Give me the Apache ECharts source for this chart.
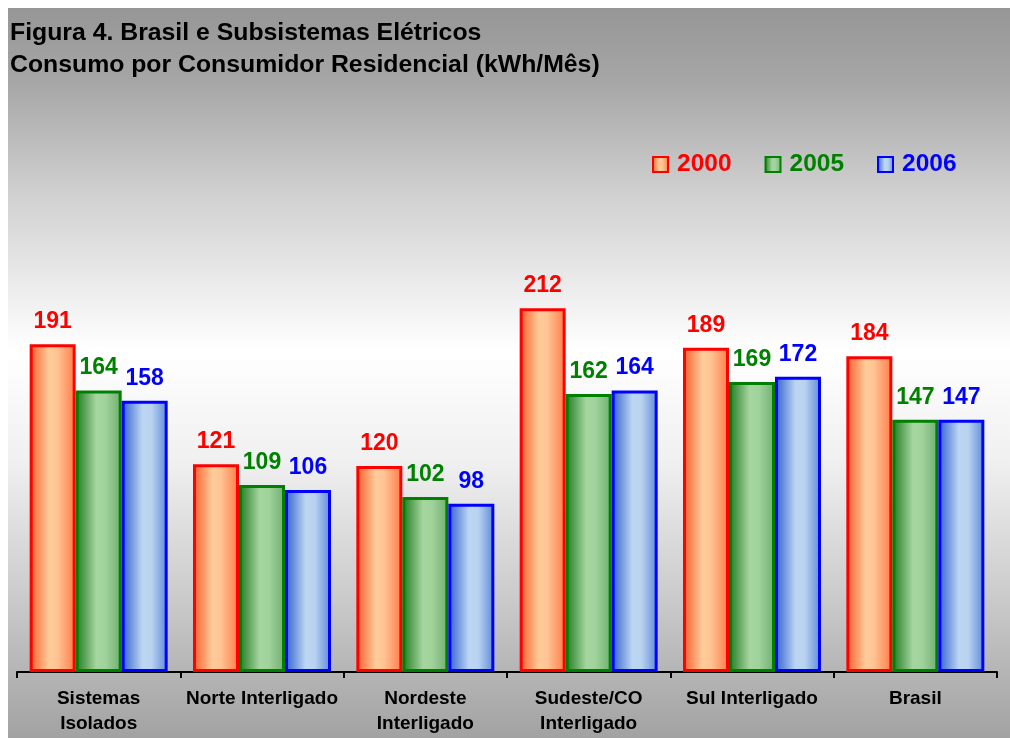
<!DOCTYPE html>
<html>
<head>
<meta charset="utf-8">
<script src="https://cdn.jsdelivr.net/npm/echarts@6/dist/echarts.min.js"></script>
<style>
html,body{margin:0;padding:0;background:#fff;}
#chart{width:1010px;height:738px;}
</style>
</head>
<body>
<div id="chart"></div>
<script>
const categories = ['Sistemas\nIsolados', 'Norte Interligado', 'Nordeste\nInterligado', 'Sudeste/CO\nInterligado', 'Sul Interligado', 'Brasil'];
const seriesNames = ['2000', '2005', '2006'];
const values2000 = [191, 121, 120, 212, 189, 184];
const values2005 = [164, 109, 102, 162, 169, 147];
const values2006 = [158, 106, 98, 164, 172, 147];
const titleLines = ['Figura 4. Brasil e Subsistemas Elétricos', 'Consumo por Consumidor Residencial (kWh/Mês)'];

const FONT = '"Liberation Sans", Arial, Helvetica, sans-serif';
const grad = (stops) => new echarts.graphic.LinearGradient(0, 0, 1, 0, stops.map((c, i) => ({offset: c[0], color: c[1]})));

const styles = [
  {border: '#ff0000', text: '#ff0000', fill: grad([[0, '#ff5a2a'], [0.42, '#ffcc99'], [0.6, '#ffc494'], [1, '#ff7a48']])},
  {border: '#008000', text: '#008000', fill: grad([[0, '#1f7a1f'], [0.45, '#a6d6a0'], [0.65, '#a0d29c'], [1, '#6eae6e']])},
  {border: '#0000ff', text: '#0000ff', fill: grad([[0, '#2f5fd0'], [0.45, '#bcd6f2'], [0.65, '#b8d2f0'], [1, '#5c88da']])}
];
const data = [values2000, values2005, values2006];

const chart = echarts.init(document.getElementById('chart'), null, {renderer: 'canvas'});
chart.setOption({
  backgroundColor: '#ffffff',
  animation: false,
  graphic: [
    {
      type: 'rect', z: -10, silent: true,
      shape: {x: 8, y: 8, width: 1002, height: 730},
      style: {fill: new echarts.graphic.LinearGradient(0, 0, 0, 1, [
        {offset: 0, color: '#969696'},
        {offset: 0.1, color: '#a6a6a6'},
        {offset: 0.25, color: '#cfcfcf'},
        {offset: 0.47, color: '#ffffff'},
        {offset: 0.62, color: '#f0f0f0'},
        {offset: 0.8, color: '#cccccc'},
        {offset: 1, color: '#a2a2a2'}
      ])}
    },
    {
      type: 'text', left: 10, top: 17, silent: true,
      style: {text: titleLines.join('\n'), font: 'bold 24.8px ' + FONT, fill: '#000', lineHeight: 32}
    }
  ],
  legend: {
    left: 647, top: 147,
    itemWidth: 15, itemHeight: 15, itemGap: 33,
    icon: 'rect',
    data: seriesNames.map((n, i) => ({name: n, textStyle: {color: styles[i].text}})),
    textStyle: {fontFamily: FONT, fontWeight: 'bold', fontSize: 24.5, padding: [0, 0, 0, 4]}
  },
  grid: {left: 17, right: 13, top: 243, bottom: 66, containLabel: false},
  xAxis: {
    type: 'category',
    data: categories,
    axisLine: {lineStyle: {color: '#000', width: 2}},
    axisTick: {show: true, length: 6, lineStyle: {color: '#000', width: 2}},
    axisLabel: {
      interval: 0, color: '#000', fontFamily: FONT, fontWeight: 'bold', fontSize: 19,
      lineHeight: 25, margin: 14
    }
  },
  yAxis: {
    type: 'value', min: 0, max: 250, interval: 50,
    show: false, splitLine: {show: false}
  },
  series: data.map((vals, i) => ({
    name: seriesNames[i],
    type: 'bar',
    barWidth: 46,
    barGap: '0%',
    data: vals,
    itemStyle: {color: styles[i].fill, borderColor: styles[i].border, borderWidth: 3},
    label: {
      show: true, position: 'top', distance: 11,
      color: styles[i].text, fontFamily: FONT, fontWeight: 'bold', fontSize: 23
    }
  }))
});
</script>
</body>
</html>
